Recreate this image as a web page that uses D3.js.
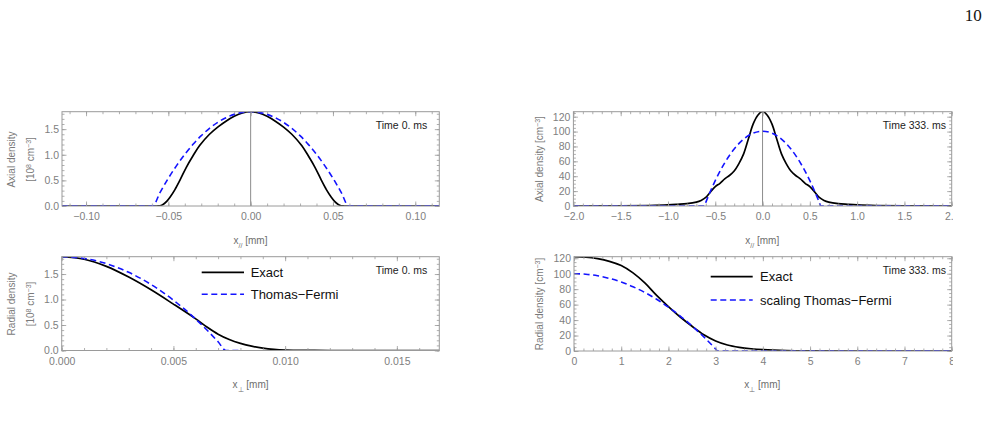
<!DOCTYPE html>
<html>
<head>
<meta charset="utf-8">
<script src="https://cdn.jsdelivr.net/npm/d3@7"></script>
<style>
  html, body { margin: 0; padding: 0; background: #fff; }
  svg { display: block; font-family: "Liberation Sans", Arial, sans-serif; }
</style>
</head>
<body>
<svg id="fig" width="988" height="435"></svg>
<script>
// ---- data ----
// axial profile, t = 0 ms  (x in mm, density in 1e8 cm^-3)
var axial0X     = [-0.1146, -0.057, -0.055, -0.053, -0.051, -0.049, -0.046, -0.043, -0.039, -0.035, -0.031, -0.025, -0.02, -0.015, -0.01, -0.005, 0,
                   0.005, 0.01, 0.015, 0.02, 0.025, 0.031, 0.035, 0.039, 0.043, 0.046, 0.049, 0.051, 0.053, 0.055, 0.057, 0.1146];
var axial0Exact = [0, 0, 0.005, 0.035, 0.09, 0.17, 0.32, 0.5, 0.76, 0.98, 1.18, 1.40, 1.54, 1.655, 1.75, 1.815, 1.84,
                   1.815, 1.75, 1.655, 1.54, 1.40, 1.18, 0.98, 0.76, 0.5, 0.32, 0.17, 0.09, 0.035, 0.005, 0, 0];
var axial0TFX   = [-0.1146, -0.0595, -0.055, -0.05, -0.045, -0.04, -0.035, -0.03, -0.025, -0.02, -0.015, -0.01, -0.005, 0,
                   0.005, 0.01, 0.015, 0.02, 0.025, 0.03, 0.035, 0.04, 0.045, 0.05, 0.055, 0.0595, 0.1146];
var axial0TF    = [0, 0, 0.267, 0.541, 0.788, 1.008, 1.203, 1.372, 1.515, 1.632, 1.723, 1.788, 1.827, 1.84,
                   1.827, 1.788, 1.723, 1.632, 1.515, 1.372, 1.203, 1.008, 0.788, 0.541, 0.267, 0, 0];

// axial profile, t = 333 ms  (x in mm, density in cm^-3)
var axial333X     = [-2, -1.5, -1.2, -1, -0.9, -0.8, -0.7, -0.65, -0.6, -0.55, -0.5, -0.45, -0.4, -0.35, -0.3, -0.25, -0.2, -0.15, -0.1, -0.05, 0,
                     0.05, 0.1, 0.15, 0.2, 0.25, 0.3, 0.35, 0.4, 0.45, 0.5, 0.55, 0.6, 0.65, 0.7, 0.8, 0.9, 1, 1.2, 1.5, 2];
var axial333Exact = [0, 0.2, 0.6, 1.4, 2.2, 3.2, 5.3, 7.5, 11.5, 19, 26, 30.5, 36.5, 41, 47, 57, 70, 90, 110, 122, 127,
                     122, 110, 90, 70, 57, 47, 41, 36.5, 30.5, 26, 19, 11.5, 7.5, 5.3, 3.2, 2.2, 1.4, 0.6, 0.2, 0];
var axial333TFX   = [-2, -0.615, -0.6, -0.55, -0.5, -0.4, -0.3, -0.2, -0.1, 0, 0.1, 0.2, 0.3, 0.4, 0.5, 0.55, 0.6, 0.615, 2];
var axial333TF    = [0, 0, 4.9, 20.1, 34.1, 58.0, 76.6, 89.9, 97.8, 100.5, 97.8, 89.9, 76.6, 58.0, 34.1, 20.1, 4.9, 0, 0];

// radial profile, t = 0 ms
var radial0X     = [0, 0.001, 0.002, 0.003, 0.004, 0.005, 0.006, 0.0065, 0.007, 0.0075, 0.008, 0.0085, 0.009, 0.0095, 0.010, 0.011, 0.012, 0.0169];
var radial0Exact = [1.84, 1.79, 1.65, 1.44, 1.19, 0.91, 0.62, 0.46, 0.32, 0.215, 0.14, 0.085, 0.047, 0.023, 0.01, 0.002, 0, 0];
var radial0TFX   = [0, 0.001, 0.002, 0.003, 0.004, 0.005, 0.0055, 0.006, 0.0065, 0.007, 0.00735, 0.008];
var radial0TF    = [1.84, 1.806, 1.704, 1.533, 1.295, 0.988, 0.81, 0.614, 0.401, 0.171, 0, 0];

// radial profile, t = 333 ms
var radial333X     = [0, 0.25, 0.5, 0.75, 1, 1.25, 1.5, 1.75, 2, 2.25, 2.5, 2.75, 3, 3.25, 3.5, 3.75, 4, 4.5, 5, 6, 8];
var radial333Exact = [122, 121.5, 119.5, 116, 110.5, 101, 88, 72, 57.5, 44, 32, 21, 13, 7.8, 4.8, 2.9, 1.7, 0.5, 0.1, 0, 0];
var radial333TFX   = [0, 0.25, 0.5, 0.75, 1, 1.25, 1.5, 1.75, 2, 2.25, 2.5, 2.75, 3, 3.04, 8];
var radial333TF    = [100, 99.3, 97.3, 93.9, 89.2, 83.1, 75.7, 66.9, 56.7, 45.2, 32.4, 18.2, 2.6, 0, 0];

// tick labels
var axial0Ticks    = [-0.10, -0.05, 0, 0.05, 0.10];
var dens0Ticks     = [0, 0.5, 1.0, 1.5];
var axial333Ticks  = [-2, -1.5, -1, -0.5, 0, 0.5, 1, 1.5, 2];
var dens333Ticks   = [0, 20, 40, 60, 80, 100, 120];
var radial0Ticks   = [0, 0.005, 0.010, 0.015];
var radial333Ticks = [0, 1, 2, 3, 4, 5, 6, 7, 8];

var legendNames0   = ["Exact", "Thomas\u2212Fermi"];
var legendNames333 = ["Exact", "scaling Thomas\u2212Fermi"];

// ---- drawing ----
var svg = d3.select("#fig");
var defs = svg.append("defs");
defs.append("clipPath").attr("id", "page-clip")
  .append("rect").attr("x", 0).attr("y", 0).attr("width", 953).attr("height", 435);
var root = svg.append("g").attr("clip-path", "url(#page-clip)");

var frameCol = "#9a9a9a", tickTextCol = "#808080";

function addAxis(g, makeAxis, transform, major, minor, fmt, showLabels, pad) {
  var a = g.append("g").attr("transform", transform)
    .call(makeAxis().tickValues(minor).tickSize(-2.5).tickFormat(""));
  var b = g.append("g").attr("transform", transform)
    .call(makeAxis().tickValues(major).tickSize(-4.5).tickPadding(pad)
      .tickFormat(showLabels ? fmt : function() { return ""; }));
  [a, b].forEach(function(s) {
    s.select(".domain").remove();
    s.selectAll("line").attr("stroke", frameCol).attr("stroke-width", 0.8);
    s.selectAll("text").attr("fill", tickTextCol).attr("font-size", "10.5px")
      .attr("font-family", "'Liberation Sans', Arial, sans-serif");
  });
}

function panel(c) {
  var x0 = c.box[0], y0 = c.box[1], x1 = c.box[2], y1 = c.box[3];
  var x = d3.scaleLinear().domain(c.xDomain).range([x0, x1]);
  var y = d3.scaleLinear().domain(c.yDomain).range([y1, y0]);
  var g = root.append("g");

  defs.append("clipPath").attr("id", "clip-" + c.id)
    .append("rect").attr("x", x0).attr("y", y0).attr("width", x1 - x0).attr("height", y1 - y0);

  if (c.zeroLine) {
    g.append("line").attr("x1", x(0)).attr("x2", x(0)).attr("y1", y0).attr("y2", y1)
      .attr("stroke", "#8c8c8c").attr("stroke-width", 1);
  }

  var smooth = d3.line().x(function(d) { return x(d[0]); }).y(function(d) { return y(d[1]); })
    .curve(d3.curveCatmullRom.alpha(0.5));
  var mono = d3.line().x(function(d) { return x(d[0]); }).y(function(d) { return y(d[1]); })
    .curve(d3.curveMonotoneX);
  var plot = g.append("g").attr("clip-path", "url(#clip-" + c.id + ")");
  plot.append("path").datum(d3.zip(c.exX, c.exY)).attr("d", smooth)
    .attr("fill", "none").attr("stroke", "#000").attr("stroke-width", 1.7);
  plot.append("path").datum(d3.zip(c.tfX, c.tfY)).attr("d", mono)
    .attr("fill", "none").attr("stroke", "#1414ff").attr("stroke-width", 1.6)
    .attr("stroke-dasharray", "6,3.6");

  addAxis(g, function() { return d3.axisBottom(x); }, "translate(0," + y1 + ")", c.xMajor, c.xMinor, c.xFmt, true, 7);
  addAxis(g, function() { return d3.axisTop(x); }, "translate(0," + y0 + ")", c.xMajor, c.xMinor, c.xFmt, false, 3);
  addAxis(g, function() { return d3.axisLeft(y); }, "translate(" + x0 + ",0)", c.yMajor, c.yMinor, c.yFmt, true, 3);
  addAxis(g, function() { return d3.axisRight(y); }, "translate(" + x1 + ",0)", c.yMajor, c.yMinor, c.yFmt, false, 3);

  g.append("rect").attr("x", x0).attr("y", y0).attr("width", x1 - x0).attr("height", y1 - y0)
    .attr("fill", "none").attr("stroke", frameCol).attr("stroke-width", 1);

  // time stamp
  g.append("text").attr("x", c.timeAt[0]).attr("y", c.timeAt[1]).attr("text-anchor", "end")
    .attr("font-size", "10.5px").attr("fill", "#222").text(c.time);

  // x title
  var xt = g.append("text").attr("x", c.xTitleAt[0]).attr("y", c.xTitleAt[1]).attr("text-anchor", "middle")
    .attr("font-size", "10px").attr("fill", "#6e6e6e");
  xt.append("tspan").text("x");
  xt.append("tspan").attr("font-size", "7px").attr("baseline-shift", "sub").text(c.xSub);
  xt.append("tspan").text(" [mm]");

  // y title lines
  c.yTitle.forEach(function(parts, i) {
    var t = g.append("text")
      .attr("transform", "translate(" + c.yTitleX[i] + "," + c.yTitleY + ") rotate(-90)")
      .attr("text-anchor", "middle").attr("dy", "0.35em")
      .attr("font-size", "10px").attr("fill", "#7a7a7a");
    parts.forEach(function(p) {
      var s = t.append("tspan").text(p[0]);
      if (p[1]) s.attr("font-size", "7px").attr("baseline-shift", "super");
    });
  });

  // legend
  if (c.legend) {
    var L = c.legend;
    L.names.forEach(function(name, i) {
      var ly = L.rows[i];
      g.append("line").attr("x1", L.x0).attr("x2", L.x1).attr("y1", ly).attr("y2", ly)
        .attr("stroke", i === 0 ? "#000" : "#1414ff").attr("stroke-width", i === 0 ? 1.7 : 1.6)
        .attr("stroke-dasharray", i === 0 ? null : "6,3.6");
      g.append("text").attr("x", L.tx).attr("y", ly + 4.6).attr("font-size", "13px").attr("fill", "#111")
        .text(name);
    });
  }
}

var f2 = d3.format(".2f"), f1 = d3.format(".1f"), f3 = d3.format(".3f"), fd = d3.format("d");

panel({
  id: "tl", box: [62, 111.7, 439.3, 206],
  xDomain: [-0.1146, 0.1146], yDomain: [0, 1.84],
  xMajor: axial0Ticks, xMinor: d3.range(-0.11, 0.115, 0.01), xFmt: f2,
  yMajor: dens0Ticks, yMinor: d3.range(0, 1.84, 0.1), yFmt: f1,
  exX: axial0X, exY: axial0Exact, tfX: axial0TFX, tfY: axial0TF,
  zeroLine: true, time: "Time 0. ms", timeAt: [427.3, 128.8],
  xSub: "//", xTitleAt: [250.5, 243.5],
  yTitle: [[["Axial density"]], [["[10"], ["8", true], [" cm"], ["\u22123", true], ["]"]]],
  yTitleX: [11.7, 30], yTitleY: 159.5
});

panel({
  id: "tr", box: [573.4, 111.7, 951.7, 206],
  xDomain: [-2, 2], yDomain: [0, 126.7],
  xMajor: axial333Ticks, xMinor: d3.range(-2, 2.01, 0.1), xFmt: f1,
  yMajor: dens333Ticks, yMinor: d3.range(0, 126, 5), yFmt: fd,
  exX: axial333X, exY: axial333Exact, tfX: axial333TFX, tfY: axial333TF,
  zeroLine: true, time: "Time 333. ms", timeAt: [946, 128.8],
  xSub: "//", xTitleAt: [762.3, 243.5],
  yTitle: [[["Axial density [cm"], ["\u22123", true], ["]"]]],
  yTitleX: [539.3], yTitleY: 159
});

panel({
  id: "bl", box: [61.7, 256.7, 439.3, 350.5],
  xDomain: [0, 0.0169], yDomain: [0, 1.84],
  xMajor: radial0Ticks, xMinor: d3.range(0, 0.0169, 0.001), xFmt: f3,
  yMajor: dens0Ticks, yMinor: d3.range(0, 1.84, 0.1), yFmt: f1,
  exX: radial0X, exY: radial0Exact, tfX: radial0TFX, tfY: radial0TF,
  zeroLine: false, time: "Time 0. ms", timeAt: [427.3, 274.2],
  xSub: "\u22a5", xTitleAt: [250.5, 388],
  yTitle: [[["Radial density"]], [["[10"], ["8", true], [" cm"], ["\u22123", true], ["]"]]],
  yTitleX: [11.7, 30.5], yTitleY: 304,
  legend: { names: legendNames0, rows: [272.3, 294.3], x0: 201.7, x1: 244, tx: 250.7 }
});

panel({
  id: "br", box: [574, 256.7, 951.7, 351],
  xDomain: [0, 8], yDomain: [0, 122],
  xMajor: radial333Ticks, xMinor: d3.range(0, 8.01, 0.2), xFmt: fd,
  yMajor: dens333Ticks, yMinor: d3.range(0, 122, 5), yFmt: fd,
  exX: radial333X, exY: radial333Exact, tfX: radial333TFX, tfY: radial333TF,
  zeroLine: false, time: "Time 333. ms", timeAt: [946, 274.2],
  xSub: "\u22a5", xTitleAt: [762.3, 388],
  yTitle: [[["Radial density [cm"], ["\u22123", true], ["]"]]],
  yTitleX: [539.3], yTitleY: 304,
  legend: { names: legendNames333, rows: [276.7, 300], x0: 710.7, x1: 752.7, tx: 760 }
});

// page number
svg.append("text").attr("x", 981.7).attr("y", 20.5).attr("text-anchor", "end")
  .attr("font-family", "'Liberation Serif', 'DejaVu Serif', serif").attr("font-size", "17px")
  .attr("fill", "#111").text("10");
</script>
</body>
</html>
